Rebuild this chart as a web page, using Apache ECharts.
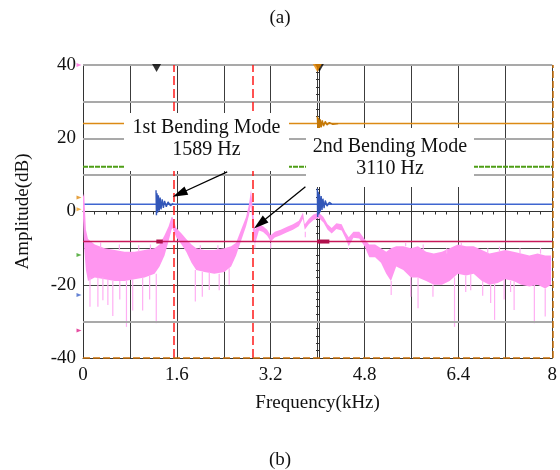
<!DOCTYPE html>
<html>
<head>
<meta charset="utf-8">
<title>Spectrum</title>
<script src="https://cdn.jsdelivr.net/npm/echarts@6/dist/echarts.min.js"></script>
<style>
  html, body { margin: 0; padding: 0; background: #fff; }
  #chart { width: 560px; height: 470px; }
</style>
</head>
<body>
<div id="chart"></div>
<script>
const FONT = '"Liberation Serif", "Times New Roman", serif';

// pink spectrum: band envelope (kHz, dB)
const bandFreq = [0.0, 0.02, 0.05, 0.085, 0.2, 0.37, 0.54, 0.71, 0.88, 1.05, 1.22, 1.305, 1.39, 1.46, 1.51, 1.525,
  1.59, 1.68, 1.76, 1.85, 1.93, 2.07, 2.24, 2.41, 2.525, 2.61, 2.695, 2.78, 2.83, 2.865, 2.9, 2.93, 3.0, 3.07,
  3.14, 3.2, 3.27, 3.37, 3.47, 3.58, 3.68, 3.75, 3.78, 3.85, 3.93, 4.02, 4.1, 4.17, 4.24, 4.32, 4.41, 4.47,
  4.53, 4.61, 4.71, 4.8, 4.88, 4.98, 5.08, 5.17, 5.25, 5.34, 5.46, 5.59, 5.71, 5.85, 5.98, 6.12, 6.25, 6.39,
  6.53, 6.66, 6.8, 6.93, 7.07, 7.2, 7.34, 7.47, 7.61, 7.75, 7.88, 7.98];
const bandTop = [4, 5, -5, -7.5, -9, -10, -10.5, -11, -11, -10.5, -10, -9, -6.5, -4, -1.5, -1.5,
  -4.5, -6, -7.5, -9, -10, -10.5, -10.5, -10, -9.5, -8.5, -5, -1.5, 2, 6, 0, -5, -3.5, -4,
  -5, -6.5, -5.5, -5, -4.2, -3.5, -2.5, -0.3, -3.5, -2, -0.8, -0.3, -1.5, -3.5, -4.5, -3.2, -3.5, -5.5,
  -7, -5.5, -5.5, -7.5, -9, -9, -10, -11, -10, -9.5, -9.5, -10, -9.5, -11, -11.5, -11, -10, -9,
  -9.5, -9.5, -10.5, -11.5, -11, -10.5, -11, -11.5, -12, -11.5, -12, -12];
const bandBottom = [-2, -10, -16, -19, -18, -18.5, -19, -19, -18.5, -18, -17, -15, -12, -8, -5, -4.5,
  -7, -9, -11, -14, -16, -16.5, -17, -16.5, -15, -12, -8, -4, -1, 2, -6, -9, -5.2, -5.6,
  -6.6, -8.2, -7.1, -6.5, -5.7, -5, -4, -2, -5, -3.5, -2.3, -1.8, -3, -5, -6, -4.8, -5.2, -7.2,
  -9.5, -7.2, -7.4, -9.5, -12.5, -12.5, -14, -17, -19, -15, -16, -18, -18, -19, -20, -20, -19, -17,
  -17.5, -17, -19, -20, -19.5, -18.5, -19, -20, -20.5, -20, -21, -20];

// noise spikes of the pink spectrum (from band edge to tip)
const spikeFreq = [0.119, 0.254, 0.339, 0.424, 0.508, 0.627, 0.741, 0.847, 1.017, 1.136, 1.249,
  1.915, 2.034, 2.153, 2.322, 2.492, 2.93, 3.2, 3.79, 4.525,
  5.254, 5.588, 5.712, 5.966, 6.334, 6.525, 6.61, 6.814, 6.95, 7.017, 7.18, 7.29, 7.35, 7.695, 7.88,
  0.3, 0.62, 0.95, 1.15, 2.0, 2.3, 5.5, 5.8, 6.2, 6.45, 6.9, 7.1, 7.45, 7.8];
const spikeTop = [-18, -18, -18, -18.5, -19, -19, -19, -18.5, -18, -17.5, -17,
  -16, -16.5, -16.5, -17, -15.5, -9, -8.5, -5.5, -10,
  -19, -18, -18, -20, -18, -17.5, -17, -19, -20, -19.5, -18.5, -19, -19, -20, -21,
  -10, -10.5, -11, -10.5, -10.5, -10.5, -9.5, -10.5, -11.5, -9.5, -11.5, -11, -11.5, -11.5];
const spikeLow = [-26, -26, -24.2, -25.5, -28.5, -24, -31.5, -27, -27, -24, -30.5,
  -24.6, -23.3, -21.4, -21.5, -20, -10, -10, -7, -10.5,
  -22.8, -23.3, -26.4, -23.3, -31.5, -22, -21.5, -23, -25, -29.6, -24, -22, -26.9, -30.5, -28.7,
  -8.5, -9, -9.2, -9, -9.2, -9.2, -8.6, -9, -10, -8.5, -10, -9.6, -10, -10];

// channel traces (dB levels)
const orangeLevel = 24;
const greenLevel = 12.2;
const blueLevel = 2;
const crimsonLevel = -8.2;
const grayLevels = [40, 30, 20, 10, -30];
const modeFreqs = [1.537, 2.886];

// decaying bursts
const blueBurst1Freq = [1.245, 1.252, 1.262, 1.272, 1.285, 1.3, 1.315, 1.33, 1.35, 1.37, 1.39, 1.42, 1.45, 1.49, 1.54];
const blueBurst1Amp = [5.8, -1, 5, -0.3, 4.4, 0.2, 3.8, 0.6, 3.3, 1, 2.9, 1.3, 2.6, 1.6, 2.2];
const blueBurst2Freq = [3.995, 4.0, 4.01, 4.02, 4.03, 4.045, 4.06, 4.075, 4.09, 4.11, 4.13, 4.16, 4.2, 4.24];
const blueBurst2Amp = [6.3, -1.5, 5.4, -0.8, 4.8, -0.2, 4.2, 0.4, 3.5, 0.9, 3.0, 1.5, 2.5, 2.0];
const orangeBurstFreq = [3.995, 4.005, 4.015, 4.03, 4.045, 4.06, 4.08, 4.1, 4.13, 4.16, 4.2, 4.26, 4.35];
const orangeBurstAmp = [26, 22.2, 25.6, 22.6, 25.2, 23, 24.9, 23.3, 24.6, 23.6, 24.3, 23.8, 24];
const crimsonMarks = [[1.25, 1.36], [3.99, 4.2]];

// small markers
const topMarkFreq = [1.254, 4.03, 3.995];
const topMarkColor = ['#000', '#000', '#f08c00'];
const chanMarkY = [40, 3.8, 0.6, -11.9, -22.8, -32.5];
const chanMarkColor = ['#ff66dd', '#e08a10', '#f0a020', '#3aa020', '#3d63c9', '#e0208a'];

// annotation arrows: [tailFreq, tailDb, headFreq, headDb]
const arrows = [[2.458, 10.8, 1.646, 4.85], [3.792, 6.73, 3.014, -3.33]];

const xLabelStep = 1.6;
const yLabelStep = 20;

const chart = echarts.init(document.getElementById('chart'));

function pairs(xs, ys) {
  return xs.map((x, i) => [x, ys[i]]);
}

function levelLine(level, color, width, type, z) {
  return {
    type: 'line', silent: true, symbol: 'none', z: z,
    data: [[0, level], [8, level]],
    lineStyle: { color: color, width: width, type: type }
  };
}

function zigzag(xs, ys, color, z) {
  return {
    type: 'line', silent: true, symbol: 'none', z: z,
    data: pairs(xs, ys),
    lineStyle: { color: color, width: 1.4 }
  };
}

const series = [
  // light gray reference lines
  {
    type: 'line', data: [], z: 1, silent: true,
    markLine: {
      silent: true, symbol: 'none', label: { show: false },
      lineStyle: { color: '#a9a9a9', width: 2, type: 'solid' },
      data: grayLevels.map(v => ({ yAxis: v }))
    }
  },
  levelLine(orangeLevel, '#dc8a14', 1.5, 'solid', 4),
  levelLine(greenLevel, '#4e9e16', 2, [5, 1], 4),
  levelLine(blueLevel, '#3f66d0', 1.5, 'solid', 2),
  zigzag(blueBurst1Freq, blueBurst1Amp, '#3256b8', 4),
  zigzag(blueBurst2Freq, blueBurst2Amp, '#3256b8', 4),
  zigzag(orangeBurstFreq, orangeBurstAmp, '#c47808', 4),
  // pink spectrum band: one polygon, top edge forward then bottom edge back
  {
    type: 'custom', silent: true, z: 3,
    data: bandFreq.map((f, i) => [f, bandTop[i], bandBottom[i]]),
    encode: { x: 0, y: [1, 2] },
    renderItem: (params, api) => {
      if (params.dataIndex !== 0) return null;
      const upper = bandFreq.map((f, i) => api.coord([f, bandTop[i]]));
      const lower = bandFreq.map((f, i) => api.coord([f, bandBottom[i]])).reverse();
      return {
        type: 'polygon',
        shape: { points: upper.concat(lower) },
        style: { fill: '#ff96f0' }
      };
    }
  },
  {
    type: 'custom', silent: true, z: 3,
    data: spikeFreq.map((f, i) => [f, spikeTop[i], spikeLow[i]]),
    encode: { x: 0, y: [1, 2] },
    renderItem: (params, api) => {
      const a = api.coord([api.value(0), api.value(1)]);
      const b = api.coord([api.value(0), api.value(2)]);
      return {
        type: 'line',
        shape: { x1: a[0], y1: a[1], x2: b[0], y2: b[1] },
        style: { stroke: '#ffaef3', lineWidth: 1.2 }
      };
    }
  },
  levelLine(crimsonLevel, '#c8185a', 1.5, 'solid', 5),
  ...crimsonMarks.map(m => ({
    type: 'line', silent: true, symbol: 'none', z: 5,
    data: [[m[0], crimsonLevel], [m[1], crimsonLevel]],
    lineStyle: { color: '#b0104c', width: 4 }
  })),
  // mode markers and frame dashes
  {
    type: 'line', data: [], z: 6, silent: true,
    markLine: {
      silent: true, symbol: 'none', label: { show: false },
      data: [
        ...modeFreqs.map(f => ({ xAxis: f, lineStyle: { color: '#ff1a1a', width: 1.5, type: [9, 4] } })),
        { yAxis: -40, lineStyle: { color: '#c8700a', width: 1.5, type: [7, 3] } },
        { xAxis: 8, lineStyle: { color: '#c8700a', width: 1.5, type: [7, 3] } }
      ]
    }
  },
  {
    type: 'scatter', silent: true, z: 7, clip: false,
    symbol: 'triangle', symbolRotate: 180, symbolSize: [9, 8], symbolOffset: [0, 3],
    data: topMarkFreq.map((f, i) => ({ value: [f, 40], itemStyle: { color: topMarkColor[i] } }))
  },
  {
    type: 'scatter', silent: true, z: 7, clip: false,
    symbol: 'triangle', symbolRotate: -90, symbolSize: [4, 5], symbolOffset: [-4, 0],
    data: chanMarkY.map((y, i) => ({ value: [0, y], itemStyle: { color: chanMarkColor[i] } }))
  },
  // arrows
  {
    type: 'line', data: [], z: 60, silent: true,
    markLine: {
      silent: true, symbol: ['none', 'triangle'], symbolSize: [9, 15],
      label: { show: false },
      lineStyle: { color: '#000', width: 1.3, type: 'solid' },
      data: arrows.map(a => [{ coord: [a[0], a[1]] }, { coord: [a[2], a[3]] }])
    }
  }
];

const isStep = (v, step) => Math.abs(v / step - Math.round(v / step)) < 1e-6;

chart.setOption({
  animation: false,
  backgroundColor: '#fff',
  textStyle: { fontFamily: FONT },
  title: [
    { text: '(a)', left: 'center', top: 4, textStyle: { fontFamily: FONT, fontSize: 19, fontWeight: 'normal', color: '#111' } },
    { text: '(b)', left: 'center', top: 446, textStyle: { fontFamily: FONT, fontSize: 19, fontWeight: 'normal', color: '#111' } }
  ],
  grid: { left: 83, right: 5, top: 65, bottom: 112 },
  xAxis: [
    {
      type: 'value', min: 0, max: 8, interval: 0.8,
      name: 'Frequency(kHz)', nameLocation: 'middle', nameGap: 36,
      nameTextStyle: { fontFamily: FONT, fontSize: 19, color: '#111' },
      axisLine: { show: true, onZero: false, lineStyle: { color: '#333' } },
      axisTick: { show: false },
      axisLabel: {
        fontFamily: FONT, fontSize: 19, color: '#111', margin: 8,
        formatter: v => isStep(v, xLabelStep) ? String(Math.round(v * 10) / 10) : ''
      },
      splitLine: { show: true, lineStyle: { color: '#3c3c3c', width: 1 } }
    },
    {
      type: 'value', min: 0, max: 8, interval: 0.8, position: 'bottom',
      axisLine: { show: true, onZero: true, onZeroAxisIndex: 0, lineStyle: { color: '#333' } },
      axisTick: { show: true, length: 3, lineStyle: { color: '#333' } },
      minorTick: { show: true, splitNumber: 4, length: 3, lineStyle: { color: '#333' } },
      axisLabel: { show: false },
      splitLine: { show: false }
    }
  ],
  yAxis: [
    {
      type: 'value', min: -40, max: 40, interval: 10,
      name: 'Amplitude(dB)', nameLocation: 'middle', nameGap: 50,
      nameTextStyle: { fontFamily: FONT, fontSize: 19, color: '#111' },
      axisLine: { show: true, onZero: false, lineStyle: { color: '#333' } },
      axisTick: { show: false },
      axisLabel: {
        fontFamily: FONT, fontSize: 19, color: '#111', margin: 7,
        formatter: v => isStep(v, yLabelStep) ? String(v) : ''
      },
      splitLine: {
        show: true,
        lineStyle: {
          width: 1,
          color: ['#444', 'transparent', '#444', '#444', '#444', 'transparent', 'transparent', 'transparent', 'transparent']
        }
      }
    },
    {
      type: 'value', min: -40, max: 40, interval: 10, position: 'left', offset: -236,
      axisLine: { show: true, onZero: false, lineStyle: { color: '#333' } },
      axisTick: { show: true, length: 3, lineStyle: { color: '#333' } },
      minorTick: { show: true, splitNumber: 5, length: 3, lineStyle: { color: '#333' } },
      axisLabel: { show: false },
      splitLine: { show: false }
    }
  ],
  graphic: [
    {
      type: 'rect', z: 50, silent: true,
      shape: { x: 124, y: 113, width: 165, height: 58 },
      style: { fill: '#fff' }
    },
    {
      type: 'text', z: 51, silent: true, x: 206.5, y: 139,
      style: {
        text: '1st Bending Mode\n1589 Hz', font: '20px ' + FONT, fill: '#111',
        textAlign: 'center', textVerticalAlign: 'middle', lineHeight: 22
      }
    },
    {
      type: 'rect', z: 50, silent: true,
      shape: { x: 306, y: 128, width: 168, height: 59 },
      style: { fill: '#fff' }
    },
    {
      type: 'text', z: 51, silent: true, x: 390, y: 158,
      style: {
        text: '2nd Bending Mode\n3110 Hz', font: '20px ' + FONT, fill: '#111',
        textAlign: 'center', textVerticalAlign: 'middle', lineHeight: 22
      }
    }
  ],
  series: series
});
</script>
</body>
</html>
